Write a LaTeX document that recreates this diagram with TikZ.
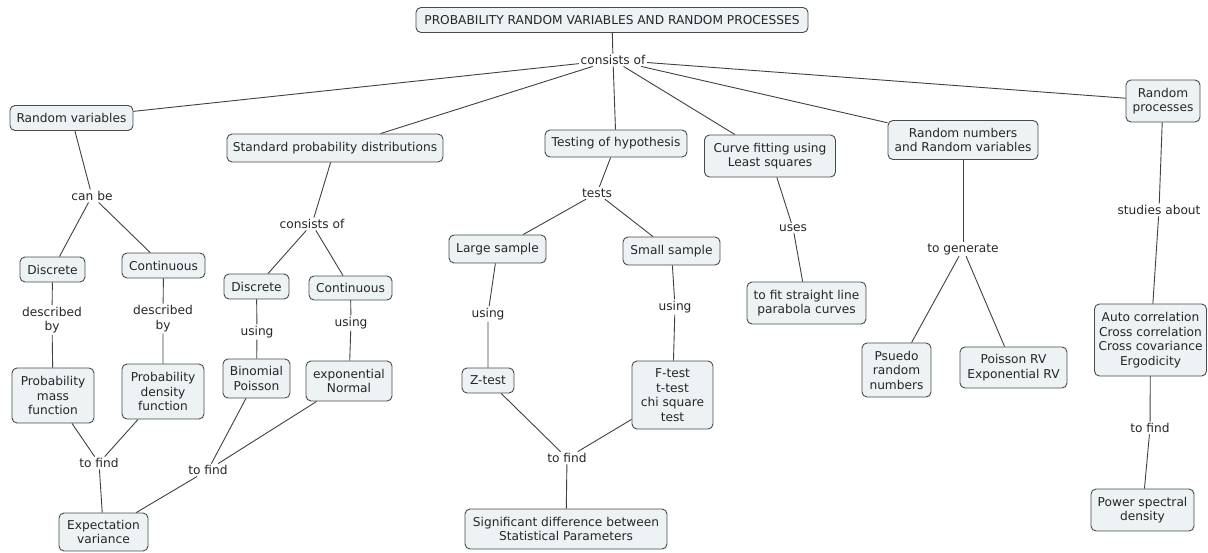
\documentclass[tikz,border=0pt]{standalone}
\usepackage{fontspec}
\setmainfont{DejaVu Sans}
\definecolor{boxfill}{HTML}{EDF2F5}
\definecolor{boxline}{HTML}{4A4A4A}
\definecolor{linec}{HTML}{404040}
\definecolor{txt}{HTML}{262626}
\tikzset{
  box/.style={draw=boxline, fill=boxfill, rounded corners=5pt, line width=0.9pt, align=center, inner sep=2pt, text=txt, font=\fontsize{12.2}{14.5}\selectfont},
  lbl/.style={inner sep=1.5pt, align=center, text=txt, font=\fontsize{12.2}{14.5}\selectfont},
  link/.style={draw=linec, line width=0.9pt},
}
\begin{document}
\begin{tikzpicture}[x=1pt,y=-1pt]
\useasboundingbox (0,0) rectangle (1208,552);
% top
\node[box, minimum width=392pt, minimum height=25pt] (title) at (612,20) {PROBABILITY RANDOM VARIABLES AND RANDOM PROCESSES};
\node[lbl] (co1) at (613,60) {consists of};
\node[box, minimum width=123pt, minimum height=25pt] (rv) at (71.5,118) {Random variables};
\node[box, minimum width=216pt, minimum height=28pt] (spd) at (335,148) {Standard probability distributions};
\node[box, minimum width=142pt, minimum height=27pt] (toh) at (616,143.5) {Testing of hypothesis};
\node[box, minimum width=131pt, minimum height=42pt] (cf) at (770,156) {Curve fitting using\\Least squares};
\node[box, minimum width=150pt, minimum height=39pt] (rn) at (963,140) {Random numbers\\and Random variables};
\node[box, minimum width=74pt, minimum height=42pt] (rp) at (1163,101) {Random\\processes};
% random variables branch
\node[lbl] (canbe) at (92,196) {can be};
\node[box, minimum width=65pt, minimum height=25pt] (d1) at (52.5,269.5) {Discrete};
\node[box, minimum width=83pt, minimum height=25pt] (c1) at (163.5,265.5) {Continuous};
\node[lbl] (db1) at (52,320) {described\\by};
\node[lbl] (db2) at (163,318.5) {described\\by};
\node[box, minimum width=82pt, minimum height=55pt] (pmf) at (53,395.5) {Probability\\mass\\function};
\node[box, minimum width=82pt, minimum height=55pt] (pdf) at (163,391.5) {Probability\\density\\function};
\node[lbl] (tf1) at (99,463) {to find};
\node[box, minimum width=89pt, minimum height=38pt] (ev) at (103.5,532) {Expectation\\variance};
% distributions branch
\node[lbl] (co2) at (312,224) {consists of};
\node[box, minimum width=65pt, minimum height=25pt] (d2) at (256.5,286.5) {Discrete};
\node[box, minimum width=83pt, minimum height=24pt] (c2) at (350.5,288) {Continuous};
\node[lbl] (u1) at (257,332) {using};
\node[lbl] (u2) at (351,323) {using};
\node[box, minimum width=67pt, minimum height=39pt] (bp) at (256.5,378.5) {Binomial\\Poisson};
\node[box, minimum width=86pt, minimum height=40pt] (en) at (349,381) {exponential\\Normal};
\node[lbl] (tf2) at (208,470) {to find};
% hypothesis branch
\node[lbl] (tests) at (597,193) {tests};
\node[box, minimum width=97pt, minimum height=28pt] (ls) at (497.5,249) {Large sample};
\node[box, minimum width=97pt, minimum height=28pt] (ss) at (671.5,251) {Small sample};
\node[lbl] (u3) at (488,314) {using};
\node[lbl] (u4) at (675,307) {using};
\node[box, minimum width=52pt, minimum height=25pt] (zt) at (488,380.5) {Z-test};
\node[box, minimum width=81pt, minimum height=68pt] (ft) at (672.5,395) {F-test\\t-test\\chi square\\test};
\node[lbl] (tf3) at (567,458) {to find};
\node[box, minimum width=202pt, minimum height=40pt] (sd) at (566,529) {Significant difference between\\Statistical Parameters};
% curve fitting
\node[lbl] (uses) at (793,228) {uses};
\node[box, minimum width=119pt, minimum height=42pt] (fit) at (806.5,303) {to fit straight line\\parabola curves};
% random numbers
\node[lbl] (tg) at (963,249) {to generate};
\node[box, minimum width=69pt, minimum height=54pt] (pr) at (896.5,370) {Psuedo\\random\\numbers};
\node[box, minimum width=107pt, minimum height=41pt] (prv) at (1013.5,367.5) {Poisson RV\\Exponential RV};
% random processes
\node[lbl] (sa) at (1159,210) {studies about};
\node[box, minimum width=112pt, minimum height=72pt] (ac) at (1150.5,340) {Auto correlation\\Cross correlation\\Cross covariance\\Ergodicity};
\node[lbl] (tf4) at (1150,428) {to find};
\node[box, minimum width=103pt, minimum height=42pt] (psd) at (1142.5,510) {Power spectral\\density};
% connectors
\draw[link] (title) -- (co1);
\foreach \t in {rv,spd,toh,cf,rn,rp} \draw[link] (co1) -- (\t);
\draw[link] (rv) -- (canbe);
\draw[link] (canbe) -- (d1);
\draw[link] (canbe) -- (c1);
\draw[link] (d1) -- (db1) -- (pmf);
\draw[link] (c1) -- (db2) -- (pdf);
\draw[link] (pmf) -- (tf1);
\draw[link] (pdf) -- (tf1);
\draw[link] (tf1) -- (ev);
\draw[link] (spd) -- (co2);
\draw[link] (co2) -- (d2);
\draw[link] (co2) -- (c2);
\draw[link] (d2) -- (u1) -- (bp);
\draw[link] (c2) -- (u2) -- (en);
\draw[link] (bp) -- (tf2);
\draw[link] (en) -- (tf2);
\draw[link] (tf2) -- (ev);
\draw[link] (toh) -- (tests);
\draw[link] (tests) -- (ls);
\draw[link] (tests) -- (ss);
\draw[link] (ls) -- (u3) -- (zt);
\draw[link] (ss) -- (u4) -- (ft);
\draw[link] (zt) -- (tf3);
\draw[link] (ft) -- (tf3);
\draw[link] (tf3) -- (sd);
\draw[link] (cf) -- (uses) -- (fit);
\draw[link] (rn) -- (tg);
\draw[link] (tg) -- (pr);
\draw[link] (tg) -- (prv);
\draw[link] (rp) -- (sa) -- (ac) -- (tf4) -- (psd);
\end{tikzpicture}
\end{document}
